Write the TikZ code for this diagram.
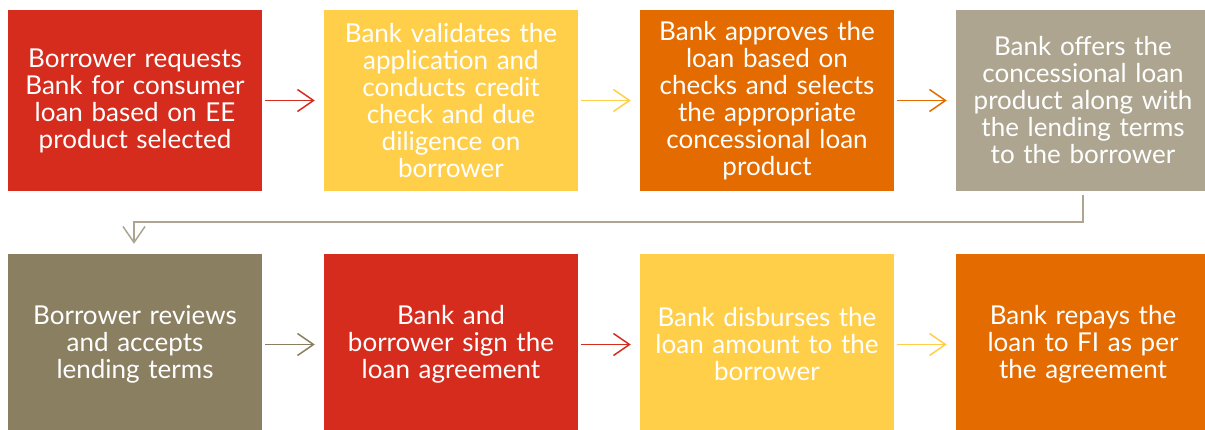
\documentclass[tikz,border=0pt]{standalone}
\usepackage{fontspec}
\setmainfont{Lato}
\usetikzlibrary{arrows.meta}
\definecolor{cred}{HTML}{D62C1E}
\definecolor{cyel}{HTML}{FFCF4A}
\definecolor{corg}{HTML}{E36B00}
\definecolor{cgry}{HTML}{ADA590}
\definecolor{coli}{HTML}{8B7F62}
\tikzset{
  stepbox/.style={rectangle, inner sep=0pt, minimum width=254pt, minimum height=181pt,
    text width=250pt, align=center, text=white, font=\fontsize{26}{27}\selectfont},
  flow/.style={line width=1.5pt, -{Straight Barb[length=16pt,width=22pt,line width=1.5pt]}},
}
\begin{document}
\begin{tikzpicture}[x=1pt,y=-1pt]
\useasboundingbox (0,0) rectangle (1205,430);
\node[stepbox, fill=cred] (b1) at (135,100.5) {Borrower requests\\Bank for consumer\\loan based on EE\\product selected};
\node[stepbox, fill=cyel] (b2) at (451,100.5) {Bank validates the\\application and\\conducts credit\\check and due\\diligence on\\borrower};
\node[stepbox, fill=corg] (b3) at (767,100.5) {Bank approves the\\loan based on\\checks and selects\\the appropriate\\concessional loan\\product};
\node[stepbox, fill=cgry] (b4) at (1083,100.5) {Bank offers the\\concessional loan\\product along with\\the lending terms\\to the borrower};
\node[stepbox, fill=coli] (b5) at (135,344.5) {Borrower reviews\\and accepts\\lending terms};
\node[stepbox, fill=cred] (b6) at (451,344.5) {Bank and\\borrower sign the\\loan agreement};
\node[stepbox, fill=cyel] (b7) at (767,344.5) {Bank disburses the\\loan amount to the\\borrower};
\node[stepbox, fill=corg] (b8) at (1083,344.5) {Bank repays the\\loan to FI as per\\the agreement};
\draw[flow, cred] ([xshift=3pt]b1.east) -- ([xshift=-9pt]b2.west);
\draw[flow, cyel] ([xshift=3pt]b2.east) -- ([xshift=-9pt]b3.west);
\draw[flow, corg] ([xshift=3pt]b3.east) -- ([xshift=-9pt]b4.west);
\coordinate (c1) at (1083,222);
\coordinate (c2) at (134,222);
\draw[flow, cgry] ([yshift=-4pt]b4.south) -- (c1) -- (c2) -- ([yshift=10pt]b5.north -| c2);
\draw[flow, coli] ([xshift=3pt]b5.east) -- ([xshift=-9pt]b6.west);
\draw[flow, cred] ([xshift=3pt]b6.east) -- ([xshift=-9pt]b7.west);
\draw[flow, cyel] ([xshift=3pt]b7.east) -- ([xshift=-9pt]b8.west);
\end{tikzpicture}
\end{document}
